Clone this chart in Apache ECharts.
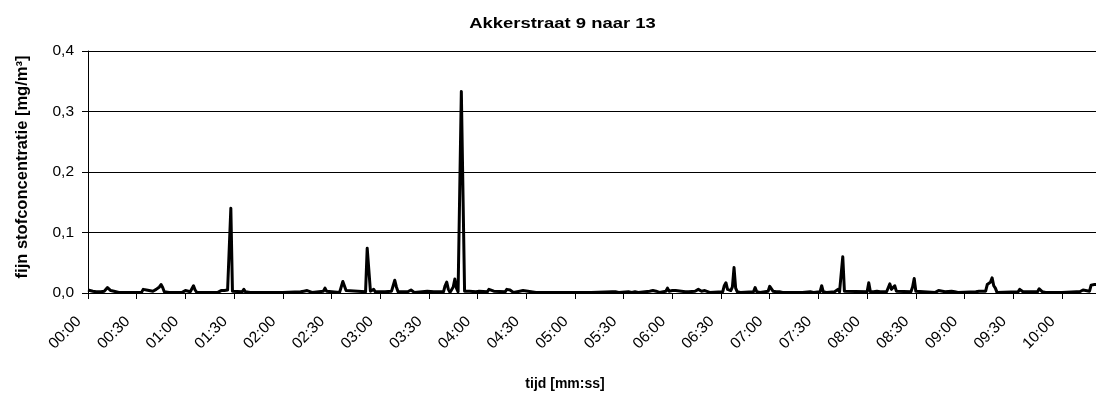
<!DOCTYPE html>
<html>
<head>
<meta charset="utf-8">
<script src="https://cdn.jsdelivr.net/npm/echarts@6/dist/echarts.min.js"></script>
<style>html,body{margin:0;padding:0;background:#fff}#c{width:1096px;height:394px}</style>
</head>
<body>
<div id="c"></div>
<script>
const chartTitle = 'Akkerstraat 9 naar 13';
const xTitle = 'tijd [mm:ss]';
const yTitle = 'fijn stofconcentratie [mg/m³]';
const tickSeconds = [0,30,60,90,120,150,180,210,240,270,300,330,360,390,420,450,480,510,540,570,600];
const tickLabels = ['00:00','00:30','01:00','01:30','02:00','02:30','03:00','03:30','04:00','04:30','05:00','05:30','06:00','06:30','07:00','07:30','08:00','08:30','09:00','09:30','10:00'];
const yTicks = [0, 0.1, 0.2, 0.3, 0.4];
const yTickLabels = ['0,0','0,1','0,2','0,3','0,4'];
const seconds = [0,1,3,5,6,8,10,11,12,13,14,16,17,19,25,33,34,35,36,37,40,41,42,43,44,45,46,47,50,58,59,60,61,63,64,65,66,67,80,81,82,83,84,85,86,87,88,89,90,95,96,97,100,101,102,
110,120,131,132,133,134,135,136,138,145,146,147,148,155,156,157,158,159,160,171,172,173,174,175,176,177,181,182,183,187,188,189,190,191,197,198,199,200,201,209,210,213,214,215,219,220,221,222,223,225,226,227,228,229,230,231,232,235,236,239,240,241,242,246,247,248,250,251,257,258,259,260,261,262,266,267,268,269,276,300,310,323,325,327,333,335,337,339,346,348,350,352,356,357,358,360,361,362,363,368,369,370,374,376,377,378,380,381,383,391,392,393,394,395,396,397,398,399,400,401,402,410,411,412,414,419,420,421,422,424,425,426,428,440,445,447,451,452,453,455,460,461,462,463,464,465,466,467,480,481,482,484,486,487,488,490,491,492,493,494,495,496,497,498,499,507,508,509,510,511,522,523,524,525,528,529,532,533,534,536,547,548,549,550,553,554,555,556,557,558,559,560,573,574,575,576,585,586,587,588,590,600,609,610,611,612,613,614,617,618,619,620,621];
const concentration = [0.005,0.004,0.003,0.002,0.003,0.002,0.003,0.006,0.009,0.006,0.004,0.003,0.002,0.001,0.001,0.001,0.006,0.009,0.005,0.002,0.003,0.005,0.006,0.004,0.010,0.014,0.009,0.002,0.001,0.001,0.003,0.004,0.002,0.002,0.007,0.012,0.005,0.001,0.001,0.003,0.004,0.003,0.004,0.003,0.005,0.003,0.140,0.003,0.001,0.002,0.006,0.002,0.001,0.004,0.001,
0.001,0.001,0.002,0.005,0.003,0.003,0.004,0.002,0.001,0.003,0.008,0.003,0.001,0.001,0.004,0.019,0.021,0.004,0.001,0.002,0.074,0.073,0.003,0.005,0.006,0.002,0.002,0.004,0.002,0.003,0.012,0.021,0.010,0.002,0.002,0.005,0.005,0.004,0.001,0.003,0.002,0.002,0.005,0.002,0.002,0.012,0.018,0.006,0.001,0.010,0.023,0.008,0.002,0.002,0.333,0.330,0.003,0.003,0.001,0.002,0.004,0.003,0.001,0.002,0.006,0.003,0.003,0.001,0.002,0.006,0.005,0.005,0.003,0.001,0.003,0.006,0.004,0.001,0.001,0.001,0.001,0.002,0.002,0.001,0.002,0.001,0.002,0.001,0.003,0.004,0.003,0.001,0.003,0.008,0.003,0.004,0.003,0.004,0.001,0.002,0.003,0.002,0.003,0.006,0.005,0.003,0.004,0.002,0.001,0.002,0.012,0.017,0.006,0.005,0.004,0.010,0.042,0.008,0.002,0.003,0.001,0.002,0.009,0.002,0.001,0.003,0.011,0.013,0.003,0.002,0.003,0.002,0.001,0.001,0.002,0.001,0.002,0.012,0.002,0.001,0.002,0.005,0.006,0.002,0.003,0.060,0.003,0.001,0.002,0.017,0.002,0.002,0.003,0.006,0.002,0.002,0.003,0.002,0.004,0.015,0.006,0.005,0.012,0.003,0.001,0.002,0.010,0.024,0.003,0.001,0.001,0.003,0.004,0.002,0.002,0.002,0.003,0.006,0.002,0.001,0.002,0.003,0.003,0.001,0.003,0.014,0.016,0.018,0.025,0.012,0.008,0.001,0.002,0.006,0.005,0.002,0.002,0.007,0.008,0.002,0.001,0.001,0.002,0.003,0.002,0.003,0.005,0.002,0.003,0.013,0.010,0.014,0.014];

const chart = echarts.init(document.getElementById('c'), null, {renderer: 'canvas'});
const font = '"Liberation Sans", Arial, sans-serif';
chart.setOption({
  animation: false,
  backgroundColor: '#fff',
  textStyle: {fontFamily: font},
  graphic: [
    {type: 'text', x: 562.5, y: 24, scaleX: 1.23, style: {text: chartTitle, font: 'bold 15px ' + font, fill: '#000', align: 'center', verticalAlign: 'middle'}},
    {type: 'text', x: 565, y: 384, style: {text: xTitle, font: 'bold 14px ' + font, fill: '#000', align: 'center', verticalAlign: 'middle'}},
    {type: 'text', x: 22, y: 167, rotation: Math.PI / 2, style: {text: yTitle, font: 'bold 16.5px ' + font, fill: '#000', align: 'center', verticalAlign: 'middle'}}
  ],
  grid: {left: 88, top: 51, right: 0, bottom: 101, containLabel: false},
  xAxis: {
    type: 'value', min: 0, max: 621,
    axisLine: {show: true, lineStyle: {color: '#000', width: 1}},
    axisTick: {show: true, length: 6, lineStyle: {color: '#000'}, customValues: tickSeconds},
    axisLabel: {
      customValues: tickSeconds,
      rotate: 45, fontSize: 15.5, color: '#000', fontFamily: font, margin: 17,
      formatter: v => tickLabels[tickSeconds.indexOf(v)] + '\u00a0\u00a0\u00a0'
    },
    splitLine: {show: false}
  },
  yAxis: {
    type: 'value', min: 0, max: 0.4, interval: 0.1,
    axisLine: {show: true, lineStyle: {color: '#000', width: 1}},
    axisTick: {show: true, length: 6, lineStyle: {color: '#000'}},
    axisLabel: {
      fontSize: 15.5, color: '#000', fontFamily: font, margin: 14,
      formatter: v => yTickLabels[yTicks.findIndex(t => Math.abs(t - v) < 1e-9)]
    },
    splitLine: {show: true, lineStyle: {color: '#000', width: 1}}
  },
  series: [{
    type: 'line',
    data: seconds.map((s, i) => [s, concentration[i]]),
    showSymbol: false,
    lineStyle: {color: '#000', width: 3, join: 'round'},
    z: 3
  }]
});
</script>
</body>
</html>
